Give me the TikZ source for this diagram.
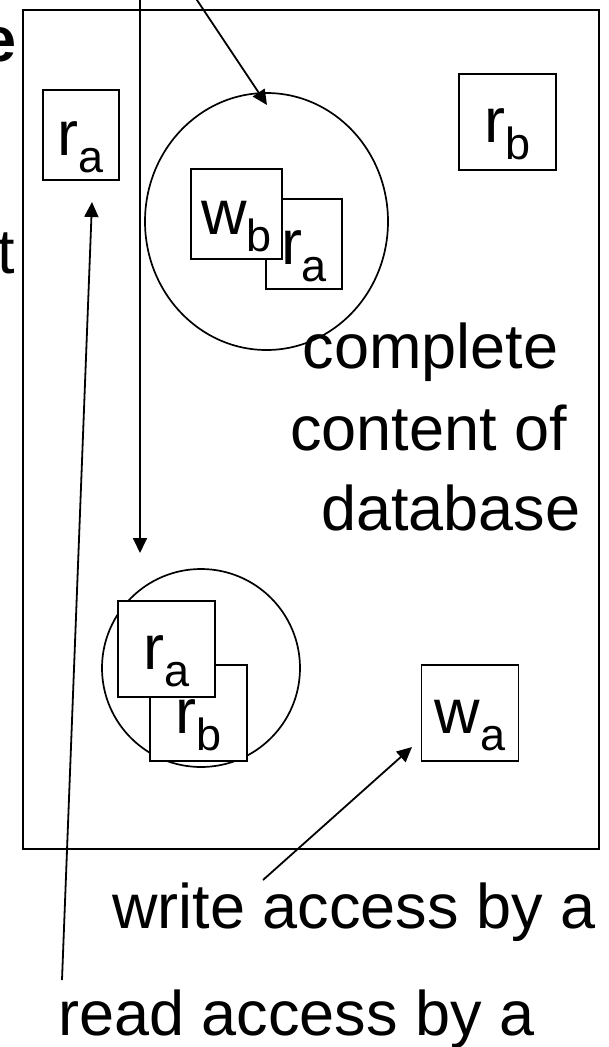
\documentclass[tikz,border=0pt]{standalone}
\usepackage{fontspec}
\setmainfont{Liberation Sans}
\usetikzlibrary{arrows.meta,shapes.geometric}
% lowered, smaller index letter after a symbol
\newcommand\idx[1]{\raisebox{-17pt}{\fontsize{45}{45}\selectfont #1}}
\begin{document}
\begin{tikzpicture}[x=1pt,y=-1pt,
  big/.style={font=\fontsize{63}{63}\selectfont, inner sep=0pt},
  tag/.style={draw, line width=1.8pt, fill=white, inner sep=0pt,
    text height=40pt, text depth=0pt, font=\fontsize{63}{63}\selectfont},
  tagnarrow/.style={tag, minimum width=76pt, minimum height=90pt},
  tagwide/.style={tag, minimum width=91pt, minimum height=90pt},
  tagsq/.style={tag, minimum width=97pt, minimum height=96pt},
  zone/.style={draw, line width=1.7pt, inner sep=0pt},
  conn/.style={line width=1.8pt, -{Triangle[length=15pt,width=14pt]}}]

\useasboundingbox (0,0) rectangle (608,1047);
\fill[white] (0,0) rectangle (608,1047);

% the whole database
\node[draw, line width=2.2pt, inner sep=0pt, minimum width=576pt, minimum height=839pt]
  (db) at (311,429.5) {};

% accessed regions
\node[zone, ellipse, minimum width=243pt, minimum height=257pt] (zoneup) at (266.5,221.5) {};
\node[zone, circle, minimum size=198pt] (zonelow) at (201,668) {};

% access marks
\node[tagnarrow] (raL) at (81,135) {r\idx{a}};
\node[tagsq] (rbT) at (507.5,122) {r\idx{b}};
\node[tagnarrow] (raC) at (304,244) {r\idx{a}};
\node[tagwide] (wbC) at (236.5,214) {w\idx{b}};
\node[tagsq] (rbD) at (198.5,713) {r\idx{b}};
\node[tagsq] (raD) at (166.5,649) {r\idx{a}};
\node[tagsq] (waE) at (470,713) {w\idx{a}};

% labels
\node[big, anchor=base west] (l1) at (302.5,368) {complete};
\node[big, anchor=base east] (l2) at (567,450) {content of};
\node[big, anchor=base west] (l3) at (321,530) {database};
\node[big, anchor=base west] (wlab) at (112,928) {write access by a};
\node[big, anchor=base west] (rlab) at (58,1035) {read access by a};
\node[big, anchor=base east, font=\fontsize{63}{63}\selectfont\bfseries] (cute) at (17,61) {e};
\node[big, anchor=base east] (cutt) at (15,273) {t};

% arrow end points
\coordinate (vtail) at (140,-10);
\coordinate (vtip) at (140,553);
\coordinate (dtail) at (190.3,-10);
\coordinate (dtip) at (267,105);
\coordinate (rtail) at (62,980);
\coordinate (rtip) at (92,202);
\coordinate (wtail) at (263,880);
\coordinate (wtip) at (412,747);

\draw[conn] (vtail) -- (vtip);
\draw[conn] (dtail) -- (dtip);
\draw[conn] (rtail) -- (rtip);
\draw[conn] (wtail) -- (wtip);
\end{tikzpicture}
\end{document}
